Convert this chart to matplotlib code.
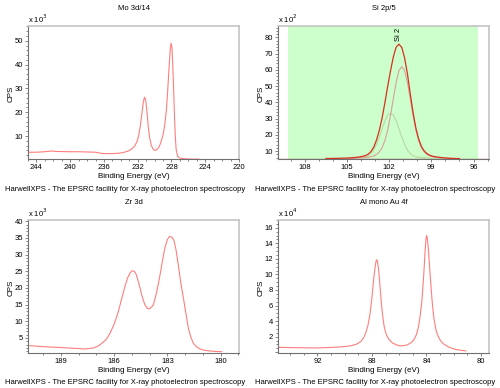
import numpy as np
import matplotlib
matplotlib.use("Agg")
import matplotlib.pyplot as plt
from matplotlib.ticker import MultipleLocator

plt.rcParams['font.family'] = ['Liberation Sans', 'DejaVu Sans']

FOOTER = "HarwellXPS - The EPSRC facility for X-ray photoelectron spectroscopy"

# --- Mo 3d/14 (CPS in units of 1e3) ---
mo_be = [245.0, 244.0, 243.0, 242.3, 241.5, 240.0, 239.0, 238.0, 237.0, 236.3,
         235.5, 234.5, 233.8, 233.2, 232.8, 232.4, 232.1, 231.9, 231.7, 231.5,
         231.35, 231.2, 231.05, 230.9, 230.75, 230.6, 230.4, 230.2, 230.0, 229.8,
         229.6, 229.4, 229.2, 229.0, 228.8, 228.6, 228.45, 228.3, 228.15, 228.05,
         227.95, 227.85, 227.75, 227.65, 227.55, 227.45, 227.3, 227.1, 226.8, 226.3,
         225.6, 224.8]
mo_cps = [3.2, 3.2, 3.4, 3.7, 3.5, 3.4, 3.4, 3.3, 3.2, 2.7,
          2.6, 2.7, 3.0, 3.6, 4.3, 5.6, 7.5, 10.0, 14.0, 19.5,
          24.0, 26.3, 25.0, 20.0, 14.0, 9.5, 6.2, 4.6, 4.0, 4.1,
          4.8, 6.0, 8.0, 10.5, 14.5, 21.0, 29.0, 38.0, 46.0, 49.0,
          47.5, 40.0, 30.0, 19.0, 10.0, 4.5, 1.8, 0.9, 0.6, 0.4,
          0.3, 0.3]

# --- Si 2p/5 (CPS in units of 1e2) ---
si_env_be = [106.5, 106.1, 105.7, 105.3, 104.9, 104.5, 104.1, 103.9, 103.7, 103.5,
             103.3, 103.1, 102.9, 102.7, 102.5, 102.3, 102.1, 101.9, 101.7, 101.5,
             101.3, 101.1, 100.9, 100.7, 100.5, 100.3, 100.1, 99.9, 99.7, 99.5,
             99.3, 99.1, 98.9, 98.7, 98.5, 98.1, 97.7, 97.3, 97.0]
si_env_cps = [5.4, 5.45, 5.5, 5.6, 5.7, 5.95, 6.4, 6.75, 7.2, 8.0,
              9.6, 12.3, 16.7, 22.7, 30.3, 39.8, 49.9, 59.4, 68.0, 74.0,
              75.8, 73.8, 67.3, 57.6, 45.4, 33.8, 24.2, 17.4, 12.7, 10.0,
              8.35, 7.37, 6.8, 6.45, 6.2, 5.8, 5.55, 5.4, 5.35]
si_a_be = [104.9, 104.5, 104.1, 103.7, 103.5, 103.3, 103.1, 102.9, 102.7, 102.5,
           102.3, 102.1, 101.9, 101.7, 101.5, 101.3, 101.1, 100.9, 100.7, 100.5,
           100.3, 100.1, 99.9, 99.7, 99.5, 99.3, 99.1, 98.9, 98.7, 98.5,
           98.1, 97.7, 97.3]
si_a_cps = [5.4, 5.5, 5.7, 6.0, 6.2, 6.5, 7.0, 7.9, 9.4, 12.0,
            16.5, 23.0, 32.0, 42.3, 52.3, 59.6, 62.0, 59.6, 52.3, 42.3,
            32.0, 23.0, 16.5, 12.0, 9.4, 7.9, 7.0, 6.5, 6.2, 6.0,
            5.7, 5.5, 5.4]
si_b_be = [105.7, 105.3, 104.9, 104.5, 104.1, 103.9, 103.7, 103.5, 103.3, 103.1,
           102.9, 102.7, 102.5, 102.3, 102.1, 101.9, 101.7, 101.5, 101.3, 101.1,
           100.9, 100.7, 100.5, 100.3, 100.1, 99.9, 99.7, 99.3, 98.9, 98.5, 98.1]
si_b_cps = [5.4, 5.5, 5.6, 5.75, 6.0, 6.2, 6.5, 7.1, 8.4, 10.6,
            14.1, 18.6, 23.6, 28.6, 32.2, 33.2, 32.2, 28.6, 23.6, 18.6,
            14.1, 10.6, 8.4, 7.1, 6.5, 6.2, 6.0, 5.75, 5.6, 5.5, 5.4]
si_bg_be = [111.0, 95.0]
si_bg_cps = [5.3, 5.3]
si_region = (109.2, 95.7)

# --- Zr 3d (CPS in units of 1e3) ---
zr_be = [190.75, 190.0, 188.87, 188.2, 187.65, 187.18, 186.9, 186.7, 186.45, 186.24,
         186.0, 185.77, 185.58, 185.4, 185.25, 185.1, 184.98, 184.87, 184.77, 184.62,
         184.45, 184.28, 184.12, 184.0, 183.88, 183.8, 183.62, 183.42, 183.28, 183.14,
         183.0, 182.88, 182.75, 182.63, 182.52, 182.39, 182.25, 182.1, 181.95, 181.82,
         181.68, 181.54, 181.35, 181.16, 180.9, 180.6, 180.25, 179.94]
zr_cps = [2.7, 2.4, 2.1, 1.9, 1.7, 2.0, 2.6, 3.4, 4.6, 6.4,
          9.2, 12.9, 16.8, 20.4, 23.0, 24.6, 25.2, 25.0, 24.2, 21.5,
          17.9, 15.0, 13.8, 13.8, 14.4, 14.9, 18.5, 23.9, 28.3, 32.2,
          34.6, 35.5, 35.2, 34.2, 31.5, 26.9, 21.5, 16.9, 12.0, 7.9,
          5.2, 3.4, 2.3, 1.7, 1.3, 1.1, 0.95, 0.9]

# --- Al mono Au 4f (CPS in units of 1e4) ---
au_be = [94.93, 93.5, 92.04, 91.0, 90.08, 89.5, 89.1, 88.8, 88.6, 88.45,
         88.3, 88.15, 88.0, 87.9, 87.8, 87.72, 87.66, 87.6, 87.52, 87.43,
         87.33, 87.22, 87.1, 86.95, 86.77, 86.5, 86.15, 85.9, 85.67, 85.4,
         85.15, 84.93, 84.75, 84.6, 84.45, 84.32, 84.2, 84.1, 84.03, 83.98,
         83.93, 83.85, 83.75, 83.65, 83.55, 83.45, 83.3, 83.15, 82.95, 82.73,
         82.4, 81.99, 81.6, 81.26, 81.1]
au_cps = [0.63, 0.58, 0.55, 0.62, 0.71, 0.85, 1.06, 1.4, 1.9, 2.5,
          3.4, 4.8, 7.0, 8.9, 10.5, 11.5, 11.9, 11.7, 10.8, 9.0,
          6.8, 4.8, 3.3, 2.3, 1.7, 1.2, 0.9, 0.82, 0.84, 0.95,
          1.2, 1.55, 2.2, 3.1, 4.7, 6.8, 9.8, 12.8, 14.6, 15.0,
          14.6, 13.2, 10.6, 8.2, 6.0, 4.4, 2.9, 2.1, 1.45, 1.06,
          0.7, 0.42, 0.28, 0.2, 0.17]

LINE = '#ff7d7d'
W, H = 500, 388
FS = 5.5


def style_axes(ax, xlim, ylim, xmaj, xmin, ymaj, ymin, exp):
    ax.set_xlim(*xlim)
    ax.set_ylim(*ylim)
    ax.xaxis.set_major_locator(MultipleLocator(xmaj))
    ax.xaxis.set_minor_locator(MultipleLocator(xmin))
    ax.yaxis.set_major_locator(MultipleLocator(ymaj))
    ax.yaxis.set_minor_locator(MultipleLocator(ymin))
    lo = max(ylim[0], 0) + 1e-9
    ax.yaxis.set_major_formatter(lambda v, p: f"{v:g}" if v > lo else "")
    ax.tick_params(which='both', direction='out', labelsize=FS, pad=1.2,
                   color='#707070', width=0.6)
    ax.tick_params(which='major', length=2.5)
    ax.tick_params(which='minor', length=1.5)
    for s in ('left', 'bottom'):
        ax.spines[s].set_color('#707070')
        ax.spines[s].set_linewidth(0.8)
    for s in ('top', 'right'):
        ax.spines[s].set_color('#c4c4c4')
        ax.spines[s].set_linewidth(1.2)
    ax.text(0.0, 1.005, "x 10$^{%d}$" % exp, transform=ax.transAxes,
            fontsize=FS, ha='left', va='bottom')


def add_axes(left_px, top_px):
    return fig.add_axes([left_px / W, 1 - (top_px + 133) / H, 211 / W, 133 / H])


def labels(cx_px, top_px, title):
    fig.text(cx_px / W, 1 - (top_px - 18) / H, title, ha='center', va='center', fontsize=FS)
    fig.text(cx_px / W, 1 - (top_px + 151) / H, "Binding Energy (eV)",
             ha='center', va='center', fontsize=FS + 0.3)
    fig.text((cx_px - 8.5) / W, 1 - (top_px + 163) / H, FOOTER,
             ha='center', va='center', fontsize=FS)
    fig.text((cx_px - 122) / W, 1 - (top_px + 68) / H, "CPS", rotation=90,
             ha='center', va='center', fontsize=FS + 0.3)


fig = plt.figure(figsize=(5, 3.88), dpi=100)

ax1 = add_axes(28, 26)
ax1.plot(mo_be, mo_cps, color=LINE, lw=0.8)
style_axes(ax1, (245, 220), (0.35, 56.2), 4, 1, 10, 2, 3)
labels(133.5, 26, "Mo 3d/14")

ax2 = add_axes(278, 26)
ax2.axvspan(*si_region, color='#ccffcc', lw=0, zorder=0)
ax2.plot(si_bg_be, si_bg_cps, color='#b03020', lw=0.9)
ax2.plot(si_b_be, si_b_cps, color='#b8d8a0', lw=0.8)
ax2.plot(si_a_be, si_a_cps, color='#d8a098', lw=0.8)
ax2.plot(si_env_be, si_env_cps, color='#d83020', lw=0.9)
ax2.text(101.3, 77.5, "Si 2", rotation=90, ha='center', va='bottom', fontsize=FS)
style_axes(ax2, (109.9, 94.9), (5.1, 87), 3, 1, 10, 2, 2)
labels(383.5, 26, "Si 2p/5")

ax3 = add_axes(28, 220)
ax3.plot(zr_be, zr_cps, color=LINE, lw=0.8)
style_axes(ax3, (190.86, 178.97), (0.5, 40.4), 3, 1, 5, 1, 3)
labels(133.5, 220, "Zr 3d")

ax4 = add_axes(278, 220)
ax4.plot(au_be, au_cps, color=LINE, lw=0.8)
style_axes(ax4, (94.9, 79.4), (-0.1, 17.0), 4, 1, 2, 0.5, 4)
labels(383.5, 220, "Al mono Au 4f")

fig.savefig("out.png", dpi=100, facecolor='white')
